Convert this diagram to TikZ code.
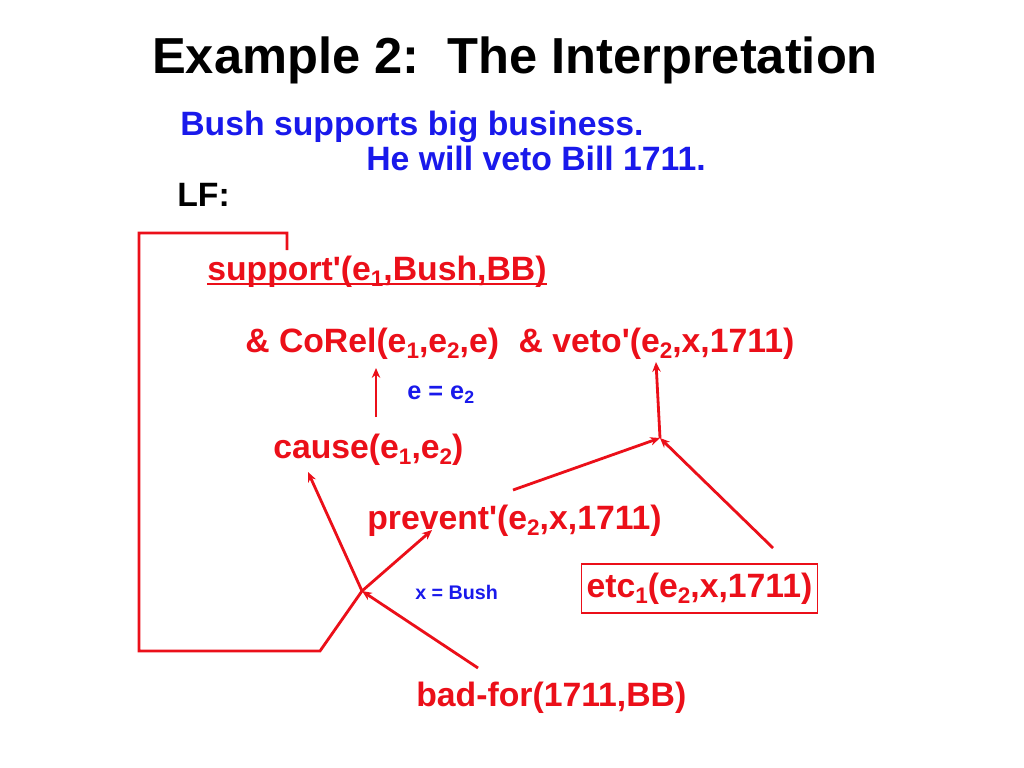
\documentclass[tikz,border=0pt]{standalone}
\usepackage{fontspec}
\setmainfont{Liberation Sans}
\usetikzlibrary{arrows.meta}

\definecolor{slidered}{RGB}{235,15,25}
\definecolor{slideblue}{RGB}{25,25,235}

% subscripts in the red formulas
\newcommand{\ix}[1]{\raisebox{-4.5pt}{\fontsize{16}{18}\selectfont #1}}

\begin{document}
\begin{tikzpicture}[
    x=0.025cm, y=-0.025cm,
    heading/.style={font=\fontsize{36}{40}\selectfont\bfseries, anchor=base, inner sep=0pt},
    sentence/.style={font=\fontsize{24}{28}\selectfont\bfseries, text=slideblue,
                     anchor=base west, inner sep=0pt},
    formula/.style={font=\fontsize{24}{28}\selectfont\bfseries, text=slidered,
                    anchor=base west, inner sep=0pt},
    binding/.style={font=\bfseries, text=slideblue, anchor=base west, inner sep=0pt},
    link/.style={draw=slidered, line width=2pt},
    arrow/.style={link, -{Stealth[length=7pt,width=6pt]}},
]
\useasboundingbox (0,0) rectangle (1024,768);

% Title and sentences
\node[heading] (title) at (515,74) {Example 2:\ \ The Interpretation};
\node[sentence] (s1) at (180,136) {Bush supports big business.};
\node[sentence] (s2) at (366,171) {He will veto Bill 1711.};
\node[sentence, text=black] (lf) at (177,206) {LF:};

% Logical form
\node[formula] (support) at (207,280) {support\textquotesingle(e\ix{1},Bush,BB)};
\draw[link, line width=1.4pt] ([yshift=-2.8pt]support.base west) -- ([yshift=-2.8pt]support.base east);

\node[formula] (corel) at (245,352) {\& CoRel(e\ix{1},e\ix{2},e)};
\node[formula] (veto) at ([xshift=13.5pt]corel.base east) {\& veto\textquotesingle(e\ix{2},x,1711)};
\node[binding, font=\fontsize{18}{20}\selectfont\bfseries] (eqe) at (407,399) {e = e\textsubscript{2}};

\node[formula] (cause) at (273,458) {cause(e\ix{1},e\ix{2})};
\node[formula] (prevent) at (367,529) {prevent\textquotesingle(e\ix{2},x,1711)};
\node[binding, font=\fontsize{14}{16}\selectfont\bfseries] (xeq) at (415,599) {x = Bush};
\node[formula, anchor=center, draw=slidered, line width=1pt, minimum width=168pt,
      minimum height=34.7pt] (etc) at (699.5,588.5) {etc\ix{1}(e\ix{2},x,1711)};
\node[formula] (badfor) at (416,706) {bad-for(1711,BB)};

% Points where the connectors start, meet and end
\coordinate (cross) at (362,591);
\coordinate (join) at (660,438);
\coordinate (bracketTop) at (287,250);
\coordinate (bracketBot) at (320,651);
\coordinate (causeTop) at (376,417);
\coordinate (corelFoot) at (376,368);
\coordinate (causeFoot) at (308,472);
\coordinate (preventFoot) at (432,530);
\coordinate (preventTop) at (513,490);
\coordinate (etcTop) at (773,548);
\coordinate (vetoFoot) at (656,362);
\coordinate (badTop) at (478,668);

% Connectors
\draw[arrow] (bracketTop) -- ++(0,-17) -| (139,651) -- (bracketBot) -- (cross) -- (preventFoot);
\draw[arrow] (badTop) -- (cross);
\draw[arrow] (cross) -- (causeFoot);
\draw[arrow] (causeTop) -- (corelFoot);
\draw[arrow] (preventTop) -- (join);
\draw[arrow] (etcTop) -- (join);
\draw[arrow] (join) -- (vetoFoot);

\end{tikzpicture}
\end{document}
